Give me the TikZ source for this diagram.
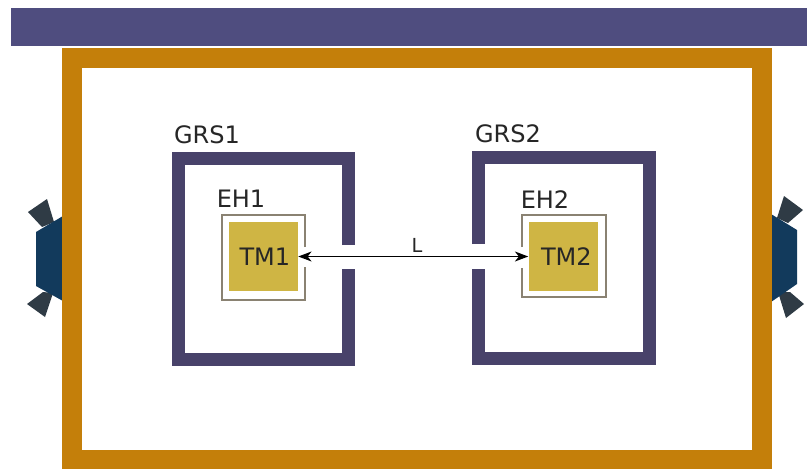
\documentclass[tikz,border=0pt]{standalone}
\usepackage{fontspec}
\usetikzlibrary{arrows.meta}
\setmainfont{DejaVu Sans}
\definecolor{barblue}{HTML}{4F4D7F}
\definecolor{frameorange}{HTML}{C47F0A}
\definecolor{grsviolet}{HTML}{48426A}
\definecolor{tmyellow}{HTML}{CFB544}
\definecolor{ehgrey}{HTML}{8A8272}
\definecolor{thrusterblue}{HTML}{123A5C}
\definecolor{nozzlegrey}{HTML}{2F3B45}
\tikzset{
  grswall/.style={draw=grsviolet, line width=9.75pt, line cap=butt, miter limit=10},
  ehwall/.style={draw=ehgrey, line width=1.5pt},
  tmbox/.style={fill=tmyellow, minimum width=51.75pt, minimum height=51.75pt, inner sep=0pt, text=black!85, font=\fontsize{18}{20}\selectfont},
  lbl/.style={inner sep=0pt, text=black!85, font=\fontsize{18}{20}\selectfont},
}
\begin{document}
\begin{tikzpicture}[x=0.75pt, y=-0.75pt]
  \useasboundingbox (0, 0) rectangle (807, 469);
  \fill[white] (0, 0) rectangle (807, 469);
  % thrusters
  \fill[nozzlegrey] (28, 212) -- (47, 199) -- (54, 222) -- (42, 227) -- cycle;
  \fill[nozzlegrey] (27, 304) -- (45, 317) -- (53, 293) -- (43, 292) -- cycle;
  \fill[thrusterblue] (63, 216) -- (36, 232) -- (36, 286) -- (63, 301) -- cycle;
  \fill[nozzlegrey] (784, 196) -- (803, 210) -- (788, 223) -- (777, 218) -- cycle;
  \fill[nozzlegrey] (778, 292) -- (790, 292) -- (804, 304) -- (786, 318) -- cycle;
  \fill[thrusterblue] (771, 214) -- (797, 230) -- (797, 284) -- (771, 302) -- cycle;
  % spacecraft
  \fill[barblue] (11, 8) rectangle (807, 46);
  \fill[frameorange] (62, 48) rectangle (772, 469);
  \fill[white] (82, 68) rectangle (752, 450);
  % housings
  \draw[grswall] (348.5, 245) -- (348.5, 158.5) -- (178.5, 158.5) -- (178.5, 359) -- (348.5, 359) -- (348.5, 269);
  \draw[grswall] (478.5, 244) -- (478.5, 157.5) -- (649.5, 157.5) -- (649.5, 358.5) -- (478.5, 358.5) -- (478.5, 269);
  \draw[ehwall] (305, 247) -- (305, 214.5) -- (221.5, 214.5) -- (221.5, 299.5) -- (305, 299.5) -- (305, 267);
  \draw[ehwall] (521.5, 247) -- (521.5, 214.5) -- (605.5, 214.5) -- (605.5, 296.5) -- (521.5, 296.5) -- (521.5, 268);
  % test masses
  \node[tmbox] (tm1) at (263.5, 256.5) {\hspace*{2pt}TM1};
  \node[tmbox] (tm2) at (563, 256.5) {\hspace*{5pt}TM2};
  \draw[{Stealth[length=10pt, width=7.5pt, inset=3pt]}-{Stealth[length=10pt, width=7.5pt, inset=3pt]}, line width=0.9pt, black] (tm1.east) -- (tm2.west);
  % labels
  \node[lbl] (grs1) at (207, 135) {GRS1};
  \node[lbl] (grs2) at (508, 134) {GRS2};
  \node[lbl] (eh1) at (241, 199) {EH1};
  \node[lbl] (eh2) at (545, 200) {EH2};
  \node[lbl, font=\fontsize{14.5}{17}\selectfont] (len) at (417, 245) {L};
\end{tikzpicture}
\end{document}
